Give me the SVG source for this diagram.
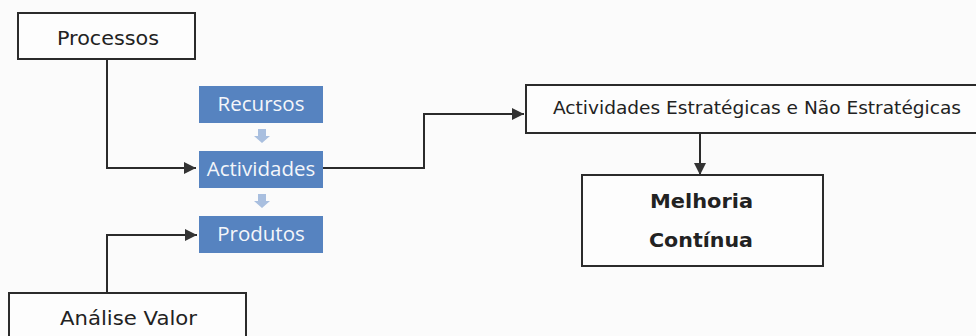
<svg xmlns="http://www.w3.org/2000/svg" width="976" height="336" viewBox="0 0 976 336">
<defs>
<style>
.box{fill:#fdfdfd;stroke:#2b2b2b;stroke-width:2}
.blue{fill:#5683c0}
.lbl{font-family:"DejaVu Sans","Liberation Sans",sans-serif;fill:#222;text-anchor:middle}
.wlbl{font-family:"Open Sans","Noto Sans","Liberation Sans",sans-serif;fill:#f4f6fa;text-anchor:middle;font-size:20.5px}
.conn{fill:none;stroke:#2b2b2b;stroke-width:2}
.bar{fill:#a9bfdf}
</style>
<marker id="ah" viewBox="0 0 12 12" refX="12" refY="6" markerWidth="12" markerHeight="12" markerUnits="userSpaceOnUse" orient="auto">
<path d="M0,0 L12,6 L0,12 Z" fill="#333"/>
</marker>
</defs>
<rect width="976" height="336" fill="#fbfbfb"/>
<g id="processos">
<rect class="box" x="18" y="13" width="177" height="46"/>
<text class="lbl" x="108" y="45" font-size="19" textLength="102" lengthAdjust="spacingAndGlyphs">Processos</text>
</g>
<g id="recursos">
<rect class="blue" x="199" y="86" width="124" height="37"/>
<text class="wlbl" x="261" y="111">Recursos</text>
</g>
<g id="actividades">
<rect class="blue" x="199" y="151" width="124" height="37"/>
<text class="wlbl" x="261" y="176">Actividades</text>
</g>
<g id="produtos">
<rect class="blue" x="199" y="216" width="124" height="37"/>
<text class="wlbl" x="261" y="241">Produtos</text>
</g>
<g id="analise">
<rect class="box" x="9" y="293" width="237" height="60"/>
<text class="lbl" x="128.5" y="325" font-size="19" textLength="137" lengthAdjust="spacingAndGlyphs">Análise Valor</text>
</g>
<g id="estrategicas">
<rect class="box" x="526" y="85" width="452" height="48"/>
<text class="lbl" x="757" y="114" font-size="17" textLength="408" lengthAdjust="spacingAndGlyphs">Actividades Estratégicas e Não Estratégicas</text>
</g>
<g id="melhoria">
<rect class="box" x="582" y="175" width="241" height="91"/>
<text class="lbl" x="701.5" y="208" font-size="19" font-weight="bold" textLength="103" lengthAdjust="spacingAndGlyphs">Melhoria</text>
<text class="lbl" x="701" y="247" font-size="19" font-weight="bold" textLength="104" lengthAdjust="spacingAndGlyphs">Contínua</text>
</g>
<g id="connectors">
<path class="bar" d="M258,129 H266 V136 H270 L262,143 L254,136 H258 Z"/>
<path class="bar" d="M258,194 H266 V201 H270 L262,208 L254,201 H258 Z"/>
<path class="conn" d="M107,59 V168 H196" marker-end="url(#ah)"/>
<path class="conn" d="M107,293 V235 H197" marker-end="url(#ah)"/>
<path class="conn" d="M323,168 H424 V114 H524" marker-end="url(#ah)"/>
<path class="conn" d="M700,133 V175" marker-end="url(#ah)"/>
</g>
</svg>
